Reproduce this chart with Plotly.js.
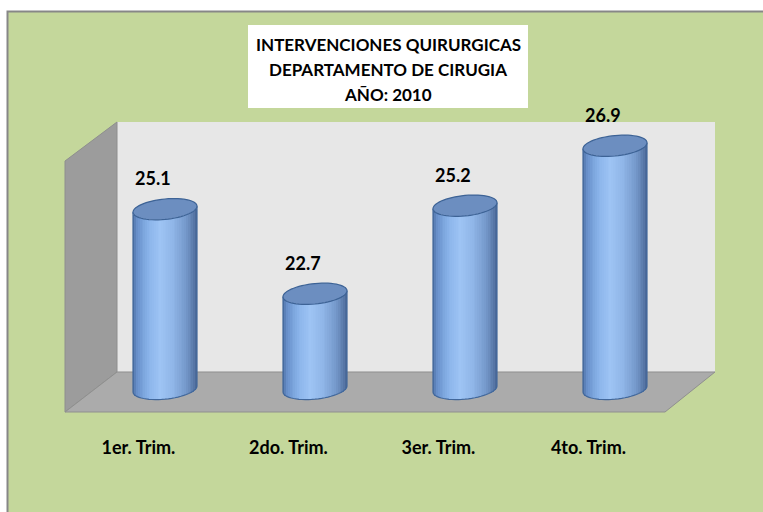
<!DOCTYPE html>
<html>
<head>
<meta charset="utf-8">
<script src="https://cdn.plot.ly/plotly-3.0.1.min.js"></script>
<style>html,body{margin:0;padding:0;background:#fff;}#chart{width:763px;height:512px;}</style>
</head>
<body>
<div id="chart"></div>
<script>
// ---- data ----
const categories = ['1er. Trim.', '2do. Trim.', '3er. Trim.', '4to. Trim.'];
const values = [25.1, 22.7, 25.2, 26.9];
const valueLabels = ['25.1', '22.7', '25.2', '26.9'];
const titleLines = ['INTERVENCIONES QUIRURGICAS', 'DEPARTAMENTO DE CIRUGIA', 'AÑO: 2010'];
const axisBase = 20;

// ---- geometry / style ----
const W = 763, H = 512;
const M = {l: 65, r: 48, t: 107, b: 107};
const PW = W - M.l - M.r, PH = H - M.t - M.b;
const XR = [-0.6667, 3.6667];
const YR = [19.544, 28];
const HW = 0.2133;   // cylinder half width (x units)
const E = 0.29;      // half height of ellipse (y units)
const T = 0.085;     // tilt of ellipse (y units)
const N = 36;        // slices per cylinder
const FONT = 'Lato, "Open Sans", sans-serif';

function px2paper(px, py) { return [(px - M.l) / PW, (M.t + PH - py) / PH]; }
function paperPath(pts) {
  return pts.map((p, i) => { const q = px2paper(p[0], p[1]); return (i ? 'L' : 'M') + q[0].toFixed(5) + ',' + q[1].toFixed(5); }).join(' ') + ' Z';
}

const stops = [
  [-1.0, [74, 108, 160]],
  [-0.85, [106, 146, 204]],
  [-0.5, [138, 180, 234]],
  [-0.15, [158, 196, 244]],
  [0.25, [144, 182, 232]],
  [0.65, [118, 154, 204]],
  [0.9, [90, 122, 170]],
  [1.0, [70, 100, 146]]
];
function gradColor(u) {
  for (let i = 0; i < stops.length - 1; i++) {
    const a = stops[i], b = stops[i + 1];
    if (u >= a[0] && u <= b[0]) {
      const t = (u - a[0]) / (b[0] - a[0]);
      const c = a[1].map((v, j) => Math.round(v + (b[1][j] - v) * t));
      return 'rgb(' + c.join(',') + ')';
    }
  }
  return 'rgb(70,100,146)';
}

const xs = categories.map((_, i) => i);
const traces = [];
const sw = 2 * HW / N;
for (let k = 0; k < N; k++) {
  const u = -1 + (2 * k + 1) / N;
  const s = Math.sqrt(Math.max(0, 1 - u * u));
  traces.push({
    type: 'bar',
    x: xs.map(c => c + u * HW),
    y: values.map(v => v - axisBase),
    base: values.map(() => axisBase - E * s + T * u),
    width: sw * 1.35,
    marker: {color: gradColor(u), line: {width: 0}},
    hoverinfo: 'skip',
    showlegend: false
  });
}

const shapes = [];
// frame
shapes.push({type: 'rect', xref: 'paper', yref: 'paper', layer: 'below',
  x0: px2paper(7.5, 0)[0], x1: px2paper(775, 0)[0], y0: px2paper(0, 11.5)[1], y1: px2paper(0, 525)[1],
  fillcolor: '#c4d79b', line: {color: '#878787', width: 2}});
// title box
shapes.push({type: 'rect', xref: 'paper', yref: 'paper', layer: 'below',
  x0: px2paper(248, 0)[0], x1: px2paper(528, 0)[0], y0: px2paper(0, 108)[1], y1: px2paper(0, 25)[1],
  fillcolor: '#ffffff', line: {width: 0}});
// back wall
shapes.push({type: 'path', xref: 'paper', yref: 'paper', layer: 'below',
  path: paperPath([[117, 122], [715, 122], [715, 372], [117, 372]]),
  fillcolor: '#e7e7e7', line: {width: 0}});
// side wall
shapes.push({type: 'path', xref: 'paper', yref: 'paper', layer: 'below',
  path: paperPath([[65, 161], [117, 122], [117, 372], [65, 412]]),
  fillcolor: '#9c9c9c', line: {color: '#8e8e8e', width: 1}});
// floor
shapes.push({type: 'path', xref: 'paper', yref: 'paper', layer: 'below',
  path: paperPath([[117, 372], [715, 372], [665, 412], [65, 412]]),
  fillcolor: '#ababab', line: {color: '#8f8f8f', width: 1}});

// cylinder tops and outlines (computed from the data through the axes)
values.forEach((v, i) => {
  const c = xs[i];
  const top = [];
  for (let j = 0; j <= 60; j++) {
    const th = 2 * Math.PI * j / 60;
    top.push((j ? 'L' : 'M') + (c + HW * Math.cos(th)).toFixed(4) + ',' + (v + E * Math.sin(th) + T * Math.cos(th)).toFixed(4));
  }
  let out = 'M' + (c - HW) + ',' + (v - T) + ' L' + (c - HW) + ',' + (axisBase - T);
  for (let j = 1; j <= 30; j++) {
    const th = Math.PI + Math.PI * j / 30;
    out += ' L' + (c + HW * Math.cos(th)).toFixed(4) + ',' + (axisBase + E * Math.sin(th) + T * Math.cos(th)).toFixed(4);
  }
  out += ' L' + (c + HW) + ',' + (v + T);
  shapes.push({type: 'path', xref: 'x', yref: 'y', layer: 'above', path: out,
    fillcolor: 'rgba(0,0,0,0)', line: {color: '#41679a', width: 1.2}});
  shapes.push({type: 'path', xref: 'x', yref: 'y', layer: 'above', path: top.join(' ') + ' Z',
    fillcolor: '#6c8ec0', line: {color: '#3d6396', width: 1.2}});
});

const annotations = values.map((v, i) => ({
  x: xs[i] - 0.08, y: v + 0.88, xref: 'x', yref: 'y', text: valueLabels[i], showarrow: false,
  font: {family: FONT, size: 18, weight: 'bold', color: '#000'}
}));
// title lines
const titleY = [45, 69.5, 94];
titleLines.forEach((t, i) => {
  annotations.push({
    x: 388 / W, y: 1 - titleY[i] / H, xref: 'paper', yref: 'paper',
    text: t, showarrow: false, xanchor: 'center', yanchor: 'middle',
    font: {family: FONT, size: 17, weight: 'bold', color: '#000'}
  });
});
annotations.forEach(a => {
  if (a.xref === 'paper') {
    // convert container fraction to paper coordinates
    const px = a.x * W, py = (1 - a.y) * H;
    const q = px2paper(px, py);
    a.x = q[0]; a.y = q[1];
  }
});

const layout = {
  width: W, height: H,
  margin: M,
  paper_bgcolor: '#ffffff',
  plot_bgcolor: 'rgba(0,0,0,0)',
  barmode: 'overlay',
  bargap: 0,
  showlegend: false,
  xaxis: {
    range: XR, tickvals: xs.map(c => c - 0.177), ticktext: categories,
    showgrid: false, zeroline: false, showline: false, ticks: '', fixedrange: true,
    ticklabelstandoff: 30,
    tickfont: {family: FONT, size: 18, weight: 'bold', color: '#000'}
  },
  yaxis: {range: YR, visible: false, showgrid: false, zeroline: false, fixedrange: true},
  shapes: shapes,
  annotations: annotations
};

Plotly.newPlot('chart', traces, layout, {displayModeBar: false, staticPlot: true});
</script>
</body>
</html>
